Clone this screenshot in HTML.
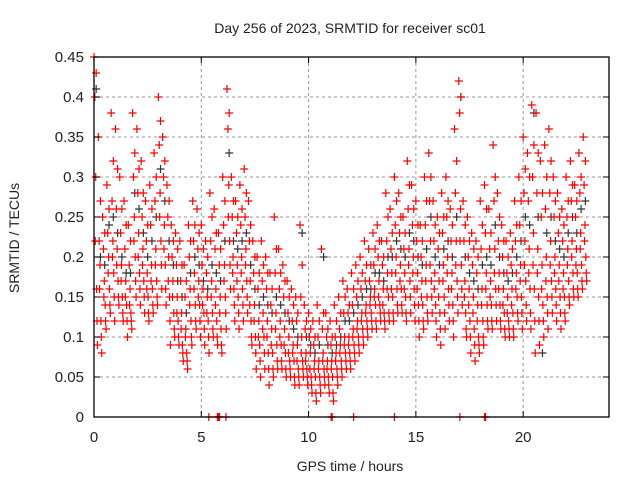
<!DOCTYPE html>
<html><head><meta charset="utf-8"><style>
body{margin:0;background:#fff}
svg text{font-family:"Liberation Sans",sans-serif;fill:#222}
</style></head><body>
<svg id="chart" width="640" height="480" xmlns="http://www.w3.org/2000/svg">
<rect width="640" height="480" fill="#fff"/>
<text x="350" y="33" font-size="14" text-anchor="middle">Day 256 of 2023, SRMTID for receiver sc01</text>
<text transform="translate(19,238) rotate(-90)" font-size="14" text-anchor="middle">SRMTID / TECUs</text>
<text x="350" y="471" font-size="14" text-anchor="middle">GPS time / hours</text>
<g id="grid"></g>
<g id="black"></g>
<g id="red"></g>
<rect x="94" y="57" width="515" height="360" fill="none" stroke="#000" stroke-width="1.3"/>
<g id="ticks"></g>
</svg>
<script>
const xTicks=[0,5,10,15,20];
const yTicks=[0,0.05,0.1,0.15,0.2,0.25,0.3,0.35,0.4,0.45];
const yTickLabels=["0","0.05","0.1","0.15","0.2","0.25","0.3","0.35","0.4","0.45"];
const times=[0.0,0.2,0.4,0.6,0.8,1.0,1.2,1.4,1.6,1.8,2.0,2.2,2.4,2.6,2.8,3.0,3.2,3.4,3.6,3.8,4.0,4.2,4.4,4.6,4.8,5.0,5.2,5.4,5.6,5.8,6.0,6.2,6.4,6.6,6.8,7.0,7.2,7.4,7.6,7.8,8.0,8.2,8.4,8.6,8.8,9.0,9.2,9.4,9.6,9.8,10.0,10.2,10.4,10.6,10.8,11.0,11.2,11.4,11.6,11.8,12.0,12.2,12.4,12.6,12.8,13.0,13.2,13.4,13.6,13.8,14.0,14.2,14.4,14.6,14.8,15.0,15.2,15.4,15.6,15.8,16.0,16.2,16.4,16.6,16.8,17.0,17.2,17.4,17.6,17.8,18.0,18.2,18.4,18.6,18.8,19.0,19.2,19.4,19.6,19.8,20.0,20.2,20.4,20.6,20.8,21.0,21.2,21.4,21.6,21.8,22.0,22.2,22.4,22.6,22.8];
const redA=[.45,.35,.25,.29,.38,.36,.30,.27,.24,.38,.36,.32,.27,.29,.33,.40,.35,.29,.24,.23,.22,.19,.24,.27,.26,.24,.22,.28,.26,.23,.30,.41,.30,.27,.29,.31,.27,.22,.20,.22,.20,.18,.25,.21,.19,.17,.16,.15,.24,.14,.13,.12,.14,.21,.13,.12,.14,.15,.17,.16,.18,.19,.20,.22,.21,.23,.24,.22,.28,.26,.30,.28,.25,.32,.29,.27,.24,.30,.33,.27,.25,.28,.30,.26,.36,.42,.27,.25,.23,.22,.27,.29,.26,.34,.28,.24,.22,.23,.27,.30,.35,.33,.39,.38,.32,.34,.36,.30,.28,.26,.30,.32,.29,.33,.35];
const redB=[.40,.22,.21,.23,.27,.26,.23,.21,.19,.30,.28,.25,.22,.24,.27,.34,.30,.25,.20,.19,.17,.15,.20,.22,.21,.19,.18,.22,.21,.19,.24,.36,.25,.23,.24,.25,.22,.18,.16,.17,.16,.14,.18,.16,.15,.13,.12,.12,.15,.11,.10,.09,.10,.11,.10,.09,.10,.11,.13,.13,.14,.15,.16,.17,.17,.19,.20,.19,.22,.21,.24,.23,.21,.26,.24,.22,.20,.24,.27,.22,.21,.23,.25,.22,.28,.38,.22,.20,.19,.18,.21,.23,.21,.27,.22,.20,.18,.19,.22,.24,.28,.27,.30,.28,.25,.26,.28,.25,.23,.22,.25,.27,.25,.28,.29];
const redC=[.30,.19,.17,.20,.22,.21,.19,.17,.16,.25,.23,.21,.18,.19,.21,.28,.24,.20,.17,.15,.13,.11,.16,.18,.17,.16,.15,.17,.16,.15,.19,.29,.20,.19,.20,.21,.17,.14,.12,.13,.12,.11,.13,.12,.11,.10,.09,.09,.10,.08,.08,.07,.07,.08,.07,.07,.08,.09,.10,.10,.11,.12,.13,.14,.15,.16,.17,.16,.18,.18,.20,.19,.18,.21,.20,.18,.17,.19,.22,.18,.17,.19,.20,.18,.22,.26,.17,.16,.15,.14,.16,.18,.17,.21,.18,.16,.15,.16,.18,.19,.22,.21,.23,.21,.19,.20,.22,.20,.19,.18,.21,.22,.21,.23,.24];
const redD=[.16,.12,.14,.16,.18,.17,.15,.14,.13,.20,.18,.17,.15,.16,.17,.22,.19,.15,.13,.12,.09,.08,.12,.14,.14,.13,.12,.13,.12,.11,.15,.22,.16,.15,.16,.17,.12,.10,.09,.10,.08,.08,.09,.09,.08,.07,.07,.06,.07,.06,.05,.05,.05,.06,.05,.05,.06,.07,.08,.08,.09,.10,.11,.12,.13,.14,.14,.13,.15,.15,.16,.16,.15,.17,.16,.14,.14,.15,.17,.14,.13,.15,.16,.14,.17,.19,.13,.12,.11,.10,.12,.14,.14,.16,.14,.13,.12,.13,.15,.15,.17,.16,.16,.15,.14,.15,.17,.16,.15,.15,.17,.18,.18,.19,.20];
const redE=[.09,.08,.11,.13,.12,.14,.12,.10,.11,.15,.14,.13,.12,.13,.14,.16,.14,.09,.10,.09,.07,.06,.09,.11,.10,.09,.08,.10,.09,.08,.11,.16,.12,.11,.12,.13,.09,.06,.05,.06,.04,.05,.06,.06,.05,.05,.04,.04,.05,.04,.03,.02,.03,.04,.03,.02,.04,.05,.06,.06,.07,.08,.09,.10,.11,.11,.12,.11,.12,.12,.13,.13,.12,.13,.12,.10,.11,.12,.13,.10,.09,.11,.12,.10,.13,.14,.10,.08,.07,.08,.09,.11,.11,.12,.11,.10,.10,.10,.12,.11,.12,.11,.08,.09,.10,.11,.13,.12,.11,.12,.14,.15,.15,.16,.17];
const redF=[.43,.27,.23,.26,.32,.31,.26,.24,.22,.33,.31,.28,.24,.26,.30,.37,.32,.27,.22,.21,.19,.17,.22,.24,.23,.21,.20,.25,.23,.21,.27,.38,.27,.25,.26,.28,.24,.20,.18,.19,.18,.16,.21,.18,.17,.15,.14,.13,.19,.12,.11,.10,.12,.13,.11,.10,.12,.13,.15,.14,.16,.17,.18,.19,.19,.21,.22,.20,.25,.23,.27,.25,.23,.29,.26,.24,.22,.27,.30,.24,.23,.25,.27,.24,.32,.40,.24,.22,.21,.20,.24,.26,.23,.30,.25,.22,.20,.21,.24,.27,.31,.30,.34,.33,.28,.30,.32,.27,.25,.24,.27,.29,.27,.30,.32];
const redG=[.22,.16,.15,.18,.20,.19,.17,.15,.14,.22,.20,.19,.16,.17,.19,.25,.21,.17,.15,.13,.11,.10,.14,.16,.15,.14,.13,.15,.14,.13,.17,.25,.18,.17,.18,.19,.14,.12,.10,.11,.10,.09,.11,.10,.09,.08,.08,.07,.08,.07,.06,.06,.06,.07,.06,.06,.07,.08,.09,.09,.10,.11,.12,.13,.14,.15,.15,.14,.16,.16,.18,.17,.16,.19,.18,.16,.15,.17,.19,.16,.15,.17,.18,.16,.19,.22,.15,.14,.13,.12,.14,.16,.15,.18,.16,.14,.13,.14,.16,.17,.19,.18,.19,.18,.16,.17,.19,.18,.17,.16,.19,.20,.19,.21,.22];
const redH=[.12,.10,.12,.14,.15,.15,.13,.12,.12,.17,.16,.15,.13,.14,.15,.19,.16,.12,.11,.10,.08,.07,.10,.12,.12,.11,.10,.11,.10,.09,.13,.19,.14,.13,.14,.15,.10,.08,.07,.08,.06,.06,.07,.07,.06,.06,.05,.05,.06,.05,.04,.03,.04,.05,.04,.03,.05,.06,.07,.07,.08,.09,.10,.11,.12,.12,.13,.12,.13,.13,.14,.14,.13,.15,.14,.12,.12,.13,.15,.12,.11,.13,.14,.12,.15,.16,.11,.10,.09,.09,.10,.12,.12,.14,.12,.11,.11,.11,.13,.13,.14,.13,.12,.12,.12,.13,.15,.14,.13,.13,.15,.16,.16,.17,.18];
const blackV=[.41,.20,.19,.24,.25,.23,.20,.18,.18,.28,.26,.23,.20,.22,.25,.31,.27,.22,.19,.17,.15,.13,.18,.20,.19,.17,.16,.19,.18,.17,.22,.33,.22,.21,.22,.23,.19,.16,.14,.15,.14,.13,.15,.14,.13,.12,.11,.10,.23,.10,.09,.08,.09,.20,.09,.08,.09,.10,.12,.12,.13,.14,.15,.16,.16,.18,.18,.17,.20,.20,.22,.21,.20,.23,.22,.20,.19,.21,.25,.20,.19,.21,.22,.20,.25,.40,.20,.18,.17,.16,.19,.20,.19,.24,.20,.18,.17,.18,.20,.22,.25,.24,.38,.25,.08,.23,.25,.22,.21,.20,.23,.25,.23,.26,.27];
const zeroTimes=[5.35,5.75,5.8,5.85,6.15,11.05,11.1,12.1,14.0,17.05,18.2,18.25];

const NS="http://www.w3.org/2000/svg";
const X0=94,X1=609,Y0=417,Y1=57,XMAX=24,YMAX=0.45;
function sx(t){return X0+(X1-X0)*t/XMAX;}
function sy(v){return Y0-(Y0-Y1)*v/YMAX;}
function mk(tag,attrs,parent){const e=document.createElementNS(NS,tag);for(const k in attrs)e.setAttribute(k,attrs[k]);parent.appendChild(e);return e;}
const grid=document.getElementById('grid'),ticks=document.getElementById('ticks');
xTicks.forEach(t=>{
  const x=sx(t);
  if(t>0){const g=mk('line',{x1:x,x2:x,y1:Y1,y2:Y0,stroke:'#999','stroke-dasharray':'3,3'},grid);
  
  }
  mk('line',{x1:x,x2:x,y1:Y0,y2:Y0-6,stroke:'#000'},ticks);
  mk('line',{x1:x,x2:x,y1:Y1,y2:Y1+6,stroke:'#000'},ticks);
  const l=mk('text',{x:x,y:Y0+25,'font-size':15,'text-anchor':'middle'},ticks);l.textContent=t;
  
  
});
yTicks.forEach((v,i)=>{
  const y=sy(v);
  if(v>0&&v<YMAX){const g=mk('line',{x1:X0,x2:X1,y1:y,y2:y,stroke:'#999','stroke-dasharray':'3,3'},grid);
  
  }
  mk('line',{x1:X0,x2:X0+6,y1:y,y2:y,stroke:'#000'},ticks);
  mk('line',{x1:X1,x2:X1-6,y1:y,y2:y,stroke:'#000'},ticks);
  const l=mk('text',{x:X0-10,y:y+5,'font-size':15,'text-anchor':'end'},ticks);l.textContent=yTickLabels[i];
  
  
});
function plus(parent,t,v,color){
  const x=sx(t),y=sy(v);
  return mk('path',{d:`M${x-4},${y}h8M${x},${y-4}v8`,stroke:color,'stroke-width':1.2,fill:'none'},parent);
}
const blackGroup=document.getElementById('black'),redGroup=document.getElementById('red');
times.forEach((t,i)=>{
  const p=plus(blackGroup,t+0.1,blackV[i],'#333');
  
  
});
const redSeries=[redA,redB,redC,redD,redE,redF,redG,redH];
const redOffsets=[0,0.04,0.08,0.12,0.16,0.1,0.06,0.14];
redSeries.forEach((arr,k)=>{
  times.forEach((t,i)=>{
    const p=plus(redGroup,t+redOffsets[k],arr[i],'#f00');
    
    
  });
});
zeroTimes.forEach(t=>{
  const p=plus(redGroup,t,0,'#f00');
  
  
});
</script>
</body></html>
